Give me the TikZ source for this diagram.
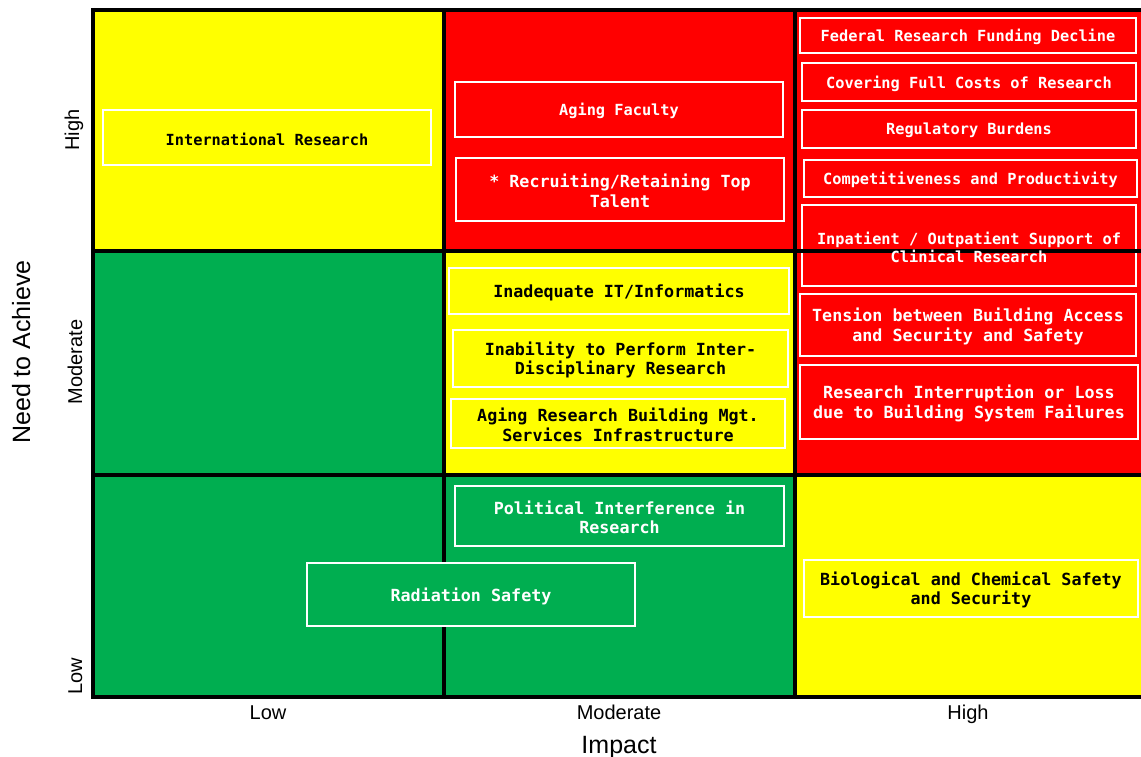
\documentclass[tikz,border=0pt]{standalone}
\usepackage{fontspec}
\setmainfont{Liberation Sans}
\setmonofont{DejaVu Sans Mono}
\pgfdeclarelayer{cells}
\pgfdeclarelayer{boxes}
\pgfdeclarelayer{hlines}
\pgfsetlayers{cells,boxes,hlines,main}
\definecolor{cyellow}{HTML}{FFFF00}
\definecolor{cred}{HTML}{FF0000}
\definecolor{cgreen}{HTML}{00AE50}
\begin{document}
\begin{tikzpicture}[x=1pt,y=-1pt,
  gridline/.style={line width=4pt, black},
  riskbox/.style={rectangle, draw=white, line width=2pt, inner sep=0pt, outer sep=0pt},
  txtA/.style={font=\ttfamily\bfseries\fontsize{15.3}{18}\selectfont, align=center, inner sep=0pt, yshift=-1.5pt},
  txtB/.style={font=\ttfamily\bfseries\fontsize{16.7}{19.4}\selectfont, align=center, inner sep=0pt, yshift=-1.5pt},
  tick/.style={font=\fontsize{20}{24}\selectfont, inner sep=0pt, anchor=base},
  axis/.style={font=\fontsize{25}{30}\selectfont, inner sep=0pt, anchor=base}]
\useasboundingbox (0,0) rectangle (1141,757);

% cells
\begin{pgfonlayer}{cells}
\fill[cyellow] (93,10) rectangle (444,251);
\fill[cred] (444,10) rectangle (795,251);
\fill[cred] (795,10) rectangle (1141,251);
\fill[cgreen] (93,251) rectangle (444,475);
\fill[cyellow] (444,251) rectangle (795,475);
\fill[cred] (795,251) rectangle (1141,475);
\fill[cgreen] (93,475) rectangle (444,697);
\fill[cgreen] (444,475) rectangle (795,697);
\fill[cyellow] (795,475) rectangle (1141,697);
\coordinate (tl) at (93,8);
\coordinate (bl) at (93,697);
\coordinate (c1t) at (444,10);
\coordinate (c1b) at (444,697);
\coordinate (c2t) at (795,10);
\coordinate (c2b) at (795,697);
\draw[gridline] (tl) -- (bl);
\draw[gridline] (c1t) -- (c1b);
\draw[gridline] (c2t) -- (c2b);
\end{pgfonlayer}

% boxes
\begin{pgfonlayer}{boxes}
\node[riskbox, fill=cyellow, minimum width=328, minimum height=55] (b1) at (267,137.5) {};
\node[riskbox, fill=cred, minimum width=328, minimum height=55] (b2) at (619,109.5) {};
\node[riskbox, fill=cred, minimum width=328, minimum height=63] (b3) at (620,189.5) {};
\node[riskbox, fill=cred, minimum width=336, minimum height=35] (b4) at (968,35.5) {};
\node[riskbox, fill=cred, minimum width=334, minimum height=38] (b5) at (969,82) {};
\node[riskbox, fill=cred, minimum width=334, minimum height=38] (b6) at (969,129) {};
\node[riskbox, fill=cred, minimum width=333, minimum height=37] (b7) at (970.5,178.5) {};
\node[riskbox, fill=cred, minimum width=334, minimum height=81] (b8) at (969,245.5) {};
\node[riskbox, fill=cred, minimum width=336, minimum height=62] (b9) at (968,325) {};
\node[riskbox, fill=cred, minimum width=338, minimum height=74] (b10) at (969,402) {};
\node[riskbox, fill=cyellow, minimum width=340, minimum height=46] (b11) at (619,291) {};
\node[riskbox, fill=cyellow, minimum width=335, minimum height=57] (b12) at (620.5,358.5) {};
\node[riskbox, fill=cyellow, minimum width=334, minimum height=49] (b13) at (618,423.5) {};
\node[riskbox, fill=cgreen, minimum width=329, minimum height=60] (b14) at (619.5,516) {};
\node[riskbox, fill=cgreen, minimum width=328, minimum height=63] (b15) at (471,594.5) {};
\node[riskbox, fill=cyellow, minimum width=334, minimum height=57] (b16) at (971,588.5) {};
\end{pgfonlayer}

% horizontal grid lines
\begin{pgfonlayer}{hlines}
\coordinate (ttl) at (91,10);
\coordinate (tr) at (1141,10);
\coordinate (r1l) at (93,251);
\coordinate (r1r) at (1141,251);
\coordinate (r2l) at (93,475);
\coordinate (r2r) at (1141,475);
\coordinate (bbl) at (91,697);
\coordinate (br) at (1141,697);
\draw[gridline] (ttl) -- (tr);
\draw[gridline] (r1l) -- (r1r);
\draw[gridline] (r2l) -- (r2r);
\draw[gridline] (bbl) -- (br);
\end{pgfonlayer}

% texts
\node[txtA] (t1) at (b1) {International Research};
\node[txtA, text=white] (t2) at (b2) {Aging Faculty};
\node[txtB, text=white] (t3) at (b3) {* Recruiting/Retaining Top\\Talent};
\node[txtA, text=white] (t4) at (b4) {Federal Research Funding Decline};
\node[txtA, text=white] (t5) at (b5) {Covering Full Costs of Research};
\node[txtA, text=white] (t6) at (b6) {Regulatory Burdens};
\node[txtA, text=white] (t7) at (b7) {Competitiveness and Productivity};
\node[txtA, text=white] (t8) at (b8) {Inpatient / Outpatient Support of\\Clinical Research};
\node[txtB, text=white] (t9) at (b9) {Tension between Building Access\\and Security and Safety};
\node[txtB, text=white] (t10) at (b10) {Research Interruption or Loss\\due to Building System Failures};
\node[txtB] (t11) at (b11) {Inadequate IT/Informatics};
\node[txtB] (t12) at (b12) {Inability to Perform Inter-\\Disciplinary Research};
\node[txtB] (t13) at (b13) {Aging Research Building Mgt.\\Services Infrastructure};
\node[txtB, text=white] (t14) at (b14) {Political Interference in\\Research};
\node[txtB, text=white] (t15) at (b15) {Radiation Safety};
\node[txtB] (t16) at (b16) {Biological and Chemical Safety\\and Security};

% axis tick labels
\node[tick] (xl) at (268,719.5) {Low};
\node[tick] (xm) at (619,719.5) {Moderate};
\node[tick] (xh) at (968,719.5) {High};
\node[tick, rotate=90] (yh) at (79,130) {High};
\node[tick, rotate=90] (ym) at (82,362) {Moderate};
\node[tick, rotate=90] (yl) at (82,676) {Low};

% axis titles
\node[axis] (ax) at (619,753) {Impact};
\node[axis, rotate=90] (ay) at (30,352) {Need to Achieve};
\end{tikzpicture}
\end{document}
